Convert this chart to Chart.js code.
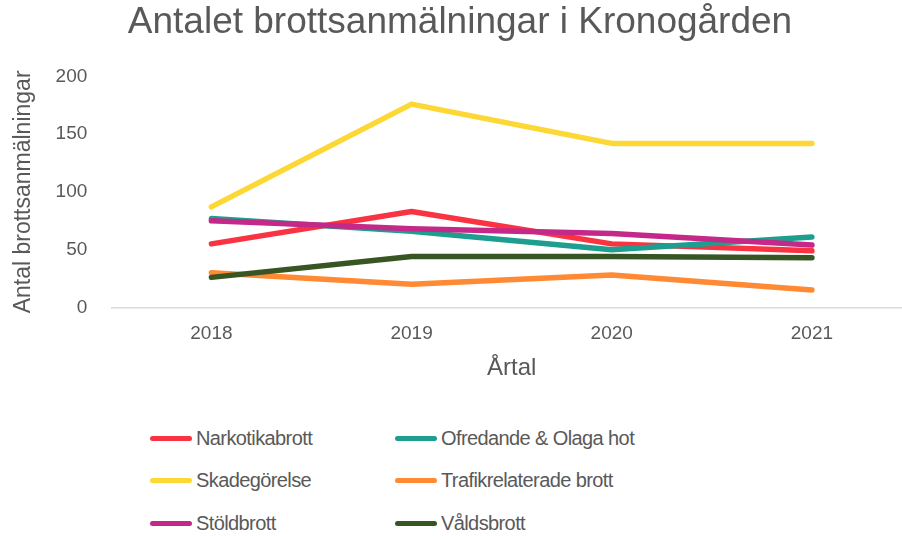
<!DOCTYPE html>
<html>
<head>
<meta charset="utf-8">
<script src="https://cdn.jsdelivr.net/npm/chart.js@4"></script>
<style>
  body { margin: 0; background: #fff; overflow: hidden; width: 902px; height: 536px; }
  #wrap { position: relative; width: 912px; height: 387px; }
  #legend {
    position: absolute; left: 150px; top: 417px;
    display: grid; grid-template-columns: 245px 300px; grid-auto-rows: 42.5px;
    font-family: "Liberation Sans", Arial, sans-serif; font-size: 20px; color: #595959;
    letter-spacing: -0.6px;
  }
  .item { display: flex; align-items: center; }
  .swatch { width: 42px; height: 5px; border-radius: 3px; margin-right: 4px; }
</style>
</head>
<body>
<div id="wrap"><canvas id="chart" width="912" height="387"></canvas></div>
<div id="legend"></div>
<script>
const years = ["2018", "2019", "2020", "2021"];
const seriesNames = ["Narkotikabrott", "Ofredande & Olaga hot", "Skadegörelse", "Trafikrelaterade brott", "Stöldbrott", "Våldsbrott"];
const narkotika = [55, 83, 55, 49];
const ofredande = [77, 66, 50, 61];
const skadegorelse = [87, 176, 142, 142];
const trafik = [30, 20, 28, 15];
const stold = [75, 68, 64, 54];
const vald = [26, 44, 44, 43];
const colors = ["#F93341", "#1E9E8E", "#FDD835", "#FF8A33", "#C4298A", "#375623"];

const allValues = [narkotika, ofredande, skadegorelse, trafik, stold, vald];
const textColor = "#595959";
const font = "'Liberation Sans', Arial, sans-serif";

const datasets = allValues.map((vals, i) => ({
  label: seriesNames[i],
  data: vals,
  borderColor: colors[i],
  backgroundColor: colors[i],
  borderWidth: 5.5,
  borderCapStyle: "round",
  borderJoinStyle: "round",
  pointRadius: 0,
  tension: 0,
  order: 6 - i
}));

new Chart(document.getElementById("chart"), {
  type: "line",
  data: { labels: years, datasets: datasets },
  options: {
    responsive: false,
    animation: false,
    layout: { padding: { left: 8, right: 0, top: 0, bottom: 0 } },
    plugins: {
      legend: { display: false },
      tooltip: { enabled: false },
      title: {
        display: true,
        text: "Antalet brottsanmälningar i Kronogården",
        color: textColor,
        font: { family: font, size: 37, weight: "normal" },
        padding: { top: 1, bottom: 31 }
      }
    },
    scales: {
      x: {
        offset: true,
        grid: { display: false, offset: true },
        border: { display: true, color: "#d9d9d9", width: 1.5 },
        ticks: { color: textColor, font: { family: font, size: 19 }, padding: 7 },
        title: {
          display: true, text: "Årtal", color: textColor,
          font: { family: font, size: 24 }, padding: { top: 2, bottom: 4 }
        }
      },
      y: {
        min: 0, max: 200,
        grid: { display: false },
        border: { display: false },
        ticks: { stepSize: 50, color: textColor, font: { family: font, size: 19 }, padding: 16 },
        title: {
          display: true, text: "Antal brottsanmälningar", color: textColor,
          font: { family: font, size: 23 }, padding: 2
        }
      }
    }
  }
});

const legend = document.getElementById("legend");
seriesNames.forEach((name, i) => {
  const item = document.createElement("div");
  item.className = "item";
  item.innerHTML = `<span class="swatch" style="background:${colors[i]}"></span><span>${name}</span>`;
  legend.appendChild(item);
});
</script>
</body>
</html>
